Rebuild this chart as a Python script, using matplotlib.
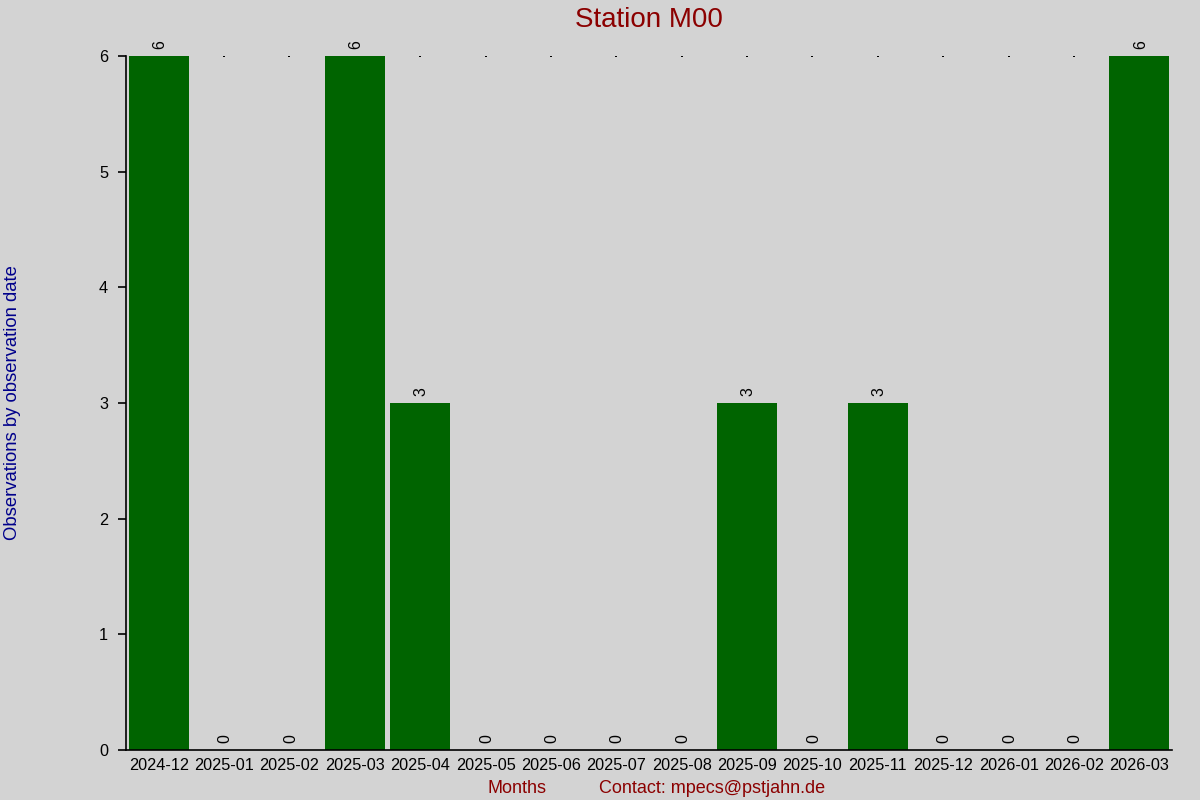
import matplotlib
matplotlib.use("Agg")
import matplotlib.pyplot as plt
import numpy as np

months = ["2024-12", "2025-01", "2025-02", "2025-03", "2025-04", "2025-05",
          "2025-06", "2025-07", "2025-08", "2025-09", "2025-10", "2025-11",
          "2025-12", "2026-01", "2026-02", "2026-03"]
counts = [6, 0, 0, 6, 3, 0, 0, 0, 0, 3, 0, 3, 0, 0, 0, 6]

title = "Station M00"
ylabel = "Observations by observation date"
xlabel = "Months"
contact = "Contact: mpecs@pstjahn.de"

plt.rcParams['font.family'] = ['Liberation Sans', 'DejaVu Sans']

bg = "#d3d3d3"
fig = plt.figure(figsize=(12, 8), dpi=100, facecolor=bg)
ax = fig.add_axes([0.105, 0.0625, 0.8717, 0.8675], facecolor=bg)

x = np.arange(len(months))
ymax = max(counts)
ax.scatter(x, [ymax] * len(x), s=1, color="black", marker="s", zorder=1, linewidths=0)
ax.bar(x, counts, width=0.92, color="#006400", zorder=2)

for xi, c in zip(x, counts):
    ax.annotate(str(c), (xi, c), xytext=(0.7, 5), textcoords="offset points",
                rotation=90, ha="center", va="bottom", fontsize=11.5, color="black")

ax.set_xlim(-0.5, len(months) - 0.5)
ax.set_ylim(0, ymax)
ax.set_xticks(x)
ax.set_xticklabels(months, fontsize=11.7)
ax.set_yticks(range(0, ymax + 1))
ax.tick_params(axis="x", length=0, pad=6)
ax.tick_params(axis="y", length=6, width=1.2, pad=7, labelsize=11.7)

for s in ["top", "right"]:
    ax.spines[s].set_visible(False)
for s in ["left", "bottom"]:
    ax.spines[s].set_linewidth(1.2)

ax.set_ylabel(ylabel, fontsize=13.3, color="#00008b")
ax.yaxis.set_label_coords(-0.1, 0.5)
ax.set_xlabel(xlabel, fontsize=13, color="#8b0000")
ax.xaxis.set_label_coords(0.3738, -0.0432)
ax.text(0.4522, -0.0432, contact, transform=ax.transAxes, ha="left", va="top",
        fontsize=13, color="#8b0000")

fig.text(ax.get_position().x0 + ax.get_position().width / 2, 1 - 20 / 800, title,
         ha="center", va="center", fontsize=20, color="#8b0000")

fig.savefig("out.png", dpi=100, facecolor=bg)
